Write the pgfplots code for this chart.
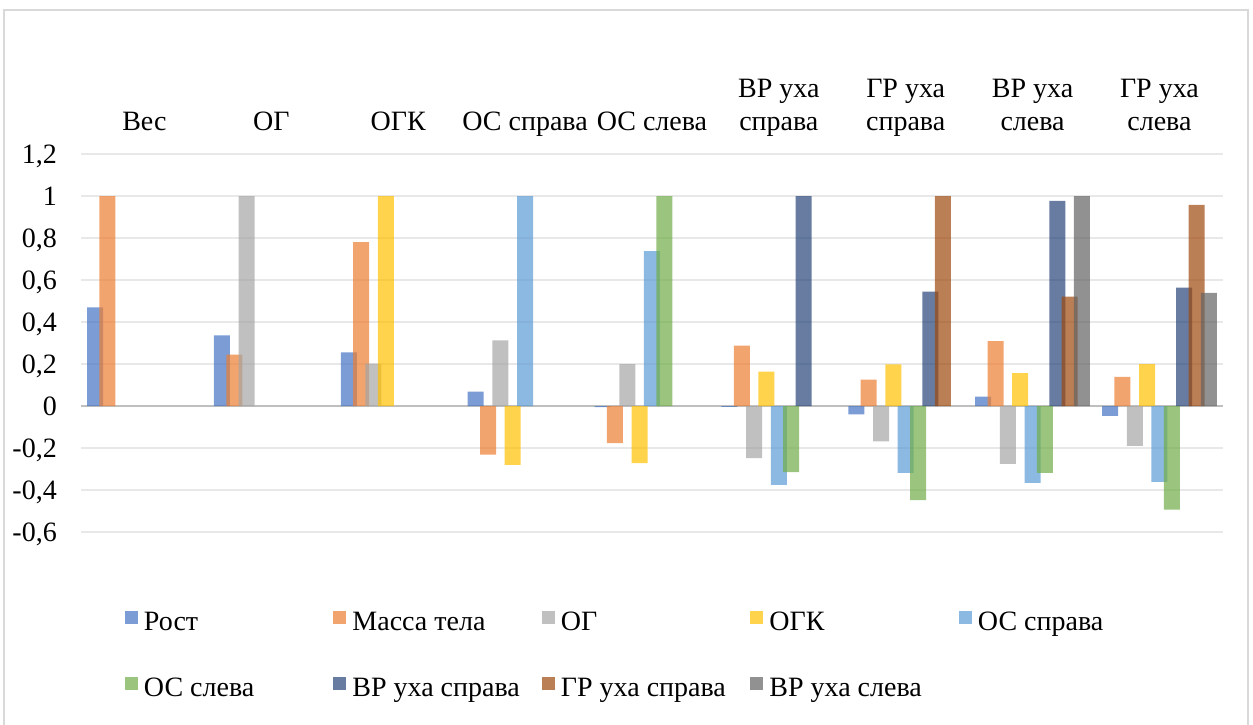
\documentclass[border=0pt]{standalone}
\usepackage{fontspec}
\setmainfont{Liberation Serif}
\usepackage{pgfplots}
\pgfplotsset{compat=1.18}
\definecolor{c1}{HTML}{4472C4}
\definecolor{c2}{HTML}{ED7D31}
\definecolor{c3}{HTML}{A5A5A5}
\definecolor{c4}{HTML}{FFC000}
\definecolor{c5}{HTML}{5B9BD5}
\definecolor{c6}{HTML}{70AD47}
\definecolor{c7}{HTML}{264478}
\definecolor{c8}{HTML}{9E480E}
\definecolor{c9}{HTML}{636363}
\definecolor{gridc}{HTML}{E8E8E8}
\definecolor{zeroc}{HTML}{BFBFBF}
\definecolor{framec}{HTML}{D9D9D9}
\pgfplotsset{
  mybar/.style 2 args={fill=#1, draw=none, fill opacity=0.7, bar width=16pt, bar shift=#2,
    legend image code/.code={\fill[##1, draw=none] (0pt,-3.2pt) rectangle (13pt,9.8pt);}},
}
\newcommand{\legent}[1]{\makebox[195.5pt][l]{\hspace{6pt}\strut #1}}
\begin{document}
\begin{tikzpicture}[x=1pt,y=1pt]
\useasboundingbox (0,0) rectangle (1253,724);
\draw[framec, line width=1.5pt] (4,-30) rectangle (1248,714);
\begin{axis}[
  at={(81pt,192pt)}, anchor=south west,
  scale only axis, width=1142pt, height=378pt,
  xmin=-0.5, xmax=8.5, ymin=-0.6, ymax=1.2,
  ybar,
  axis line style={draw=none},
  tick style={draw=none}, major tick length=0pt,
  xtick={0,1,2,3,4,5,6,7,8},
  xticklabel pos=upper,
  xticklabels={{\strut Вес},{\strut ОГ},{\strut ОГК},{\strut ОС справа},{\strut ОС слева},
    {\strut ВР уха\\\strut справа},{\strut ГР уха\\\strut справа},{\strut ВР уха\\\strut слева},{\strut ГР уха\\\strut слева}},
  xticklabel style={font=\fontsize{28}{33}\selectfont, align=center, anchor=south, inner sep=0pt, yshift=13pt},
  ytick={-0.6,-0.4,-0.2,0,0.2,0.4,0.6,0.8,1,1.2},
  yticklabels={{-0,6},{-0,4},{-0,2},{0},{0,2},{0,4},{0,6},{0,8},{1},{1,2}},
  yticklabel style={font=\fontsize{28}{30}\selectfont, anchor=base east, inner sep=0pt, xshift=-24pt, yshift=-9.5pt},
  ymajorgrids, major grid style={gridc, line width=1.3pt},
  extra y ticks={0}, extra y tick labels={},
  extra y tick style={ymajorgrids=true, major grid style={zeroc, line width=2.2pt}},
  legend columns=5,
  legend cell align=left,
  legend style={draw=none, fill=none, at={(axis description cs:0.0385,-0.2063)}, anchor=north west,
    inner sep=0pt, outer sep=0pt, column sep=0pt, row sep=43pt,
    nodes={inner sep=0pt, font=\fontsize{28}{30}\selectfont}},
]
\addplot[mybar={c1}{-49.4pt}] coordinates {(0,0.47) (1,0.336) (2,0.255) (3,0.069) (4,-0.005) (5,-0.004) (6,-0.04) (7,0.045) (8,-0.047)};
\addlegendentry{\legent{Рост}}
\addplot[mybar={c2}{-37.05pt}] coordinates {(0,1) (1,0.245) (2,0.78) (3,-0.231) (4,-0.177) (5,0.288) (6,0.126) (7,0.309) (8,0.139)};
\addlegendentry{\legent{Масса тела}}
\addplot[mybar={c3}{-24.7pt}] coordinates {(1,1) (2,0.202) (3,0.312) (4,0.2) (5,-0.248) (6,-0.169) (7,-0.275) (8,-0.19)};
\addlegendentry{\legent{ОГ}}
\addplot[mybar={c4}{-12.35pt}] coordinates {(2,1) (3,-0.28) (4,-0.272) (5,0.164) (6,0.198) (7,0.156) (8,0.2)};
\addlegendentry{\legent{ОГК}}
\addplot[mybar={c5}{0pt}] coordinates {(3,1) (4,0.737) (5,-0.375) (6,-0.318) (7,-0.366) (8,-0.361)};
\addlegendentry{\legent{ОС справа}}
\addplot[mybar={c6}{12.35pt}] coordinates {(4,1) (5,-0.315) (6,-0.448) (7,-0.318) (8,-0.494)};
\addlegendentry{\legent{ОС слева}}
\addplot[mybar={c7}{24.7pt}] coordinates {(5,1) (6,0.545) (7,0.977) (8,0.564)};
\addlegendentry{\legent{ВР уха справа}}
\addplot[mybar={c8}{37.05pt}] coordinates {(6,1) (7,0.521) (8,0.958)};
\addlegendentry{\legent{ГР уха справа}}
\addplot[mybar={c9}{49.4pt}] coordinates {(7,1) (8,0.539)};
\addlegendentry{\legent{ВР уха слева}}
\end{axis}
\end{tikzpicture}
\end{document}
